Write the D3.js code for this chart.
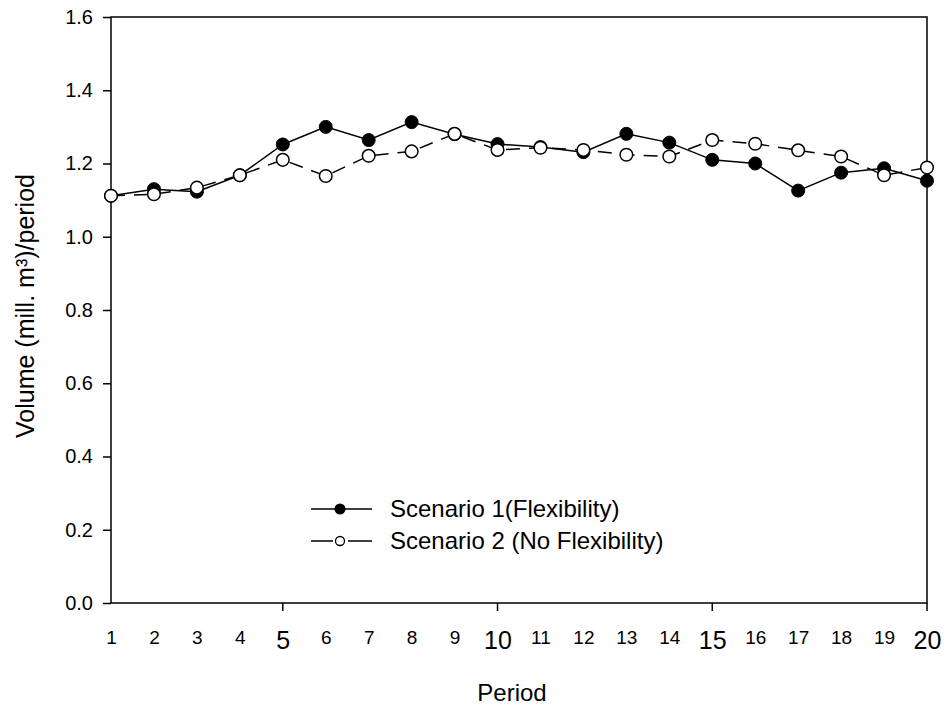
<!DOCTYPE html>
<html>
<head>
<meta charset="utf-8">
<script src="https://cdn.jsdelivr.net/npm/d3@7"></script>
<style>
  html, body { margin: 0; padding: 0; background: #fff; }
  svg { display: block; font-family: "Liberation Sans", Arial, sans-serif; }
</style>
</head>
<body>
<svg id="chart" width="947" height="709"></svg>
<script>
const periods = [1,2,3,4,5,6,7,8,9,10,11,12,13,14,15,16,17,18,19,20];
const scenario1 = [1.112,1.130,1.123,1.168,1.252,1.300,1.264,1.313,1.280,1.253,1.245,1.231,1.281,1.257,1.210,1.200,1.126,1.175,1.187,1.153];
const scenario2 = [1.112,1.116,1.134,1.168,1.210,1.166,1.221,1.233,1.281,1.237,1.243,1.237,1.224,1.219,1.264,1.254,1.236,1.219,1.168,1.189];
const yTicks = [0.0,0.2,0.4,0.6,0.8,1.0,1.2,1.4,1.6];
const majorX = [5,10,15,20];
const seriesNames = ["Scenario 1(Flexibility)", "Scenario 2 (No Flexibility)"];

const svg = d3.select("#chart");
const L = 111, R = 927, T = 17, B = 603;
const x = d3.scaleLinear().domain([1,20]).range([L,R]);
const y = d3.scaleLinear().domain([0,1.6]).range([B,T]);
const FF = "'Liberation Sans', Arial, sans-serif";

// frame
svg.append("rect").attr("x",L).attr("y",T).attr("width",R-L).attr("height",B-T)
  .attr("fill","none").attr("stroke","#000").attr("stroke-width",1.5);

// y axis
const yAxis = svg.append("g").attr("transform",`translate(${L},0)`)
  .call(d3.axisLeft(y).tickValues(yTicks).tickFormat(d3.format(".1f")).tickSize(8).tickPadding(10));
yAxis.select(".domain").remove();
yAxis.selectAll(".tick line").attr("stroke","#000").attr("stroke-width",1.5);
yAxis.selectAll(".tick text").attr("font-size",20).attr("fill","#000").attr("font-family",FF);

// x axis
const xAxis = svg.append("g").attr("transform",`translate(0,${B})`)
  .call(d3.axisBottom(x).tickValues(periods).tickFormat(d3.format("d"))
    .tickSizeInner(0).tickSizeOuter(0).tickPadding(28));
xAxis.select(".domain").remove();
xAxis.selectAll(".tick line").remove();
xAxis.selectAll(".tick text").attr("fill","#000").attr("font-family",FF)
  .attr("font-size", d => majorX.includes(d) ? 25 : 19)
  .attr("dy", d => majorX.includes(d) ? "0.72em" : "0.71em");
svg.append("g").selectAll("line").data(majorX).join("line")
  .attr("x1",d=>x(d)).attr("x2",d=>x(d)).attr("y1",B).attr("y2",B+8)
  .attr("stroke","#000").attr("stroke-width",1.5);

// titles
svg.append("text").attr("x",512).attr("y",701).attr("text-anchor","middle")
  .attr("font-size",24).attr("font-family",FF).text("Period");
svg.append("text").attr("transform",`translate(34,306) rotate(-90)`)
  .attr("text-anchor","middle").attr("font-size",25).attr("font-family",FF)
  .text("Volume (mill. m³)/period");

// lines
const line = d3.line().x((d,i)=>x(periods[i])).y(d=>y(d));
svg.append("path").datum(scenario2).attr("d",line).attr("fill","none")
  .attr("stroke","#000").attr("stroke-width",1.5).attr("stroke-dasharray","14 9");
svg.append("path").datum(scenario1).attr("d",line).attr("fill","none")
  .attr("stroke","#000").attr("stroke-width",1.5);

svg.append("g").selectAll("circle").data(scenario1).join("circle")
  .attr("cx",(d,i)=>x(periods[i])).attr("cy",d=>y(d)).attr("r",6.5)
  .attr("fill","#000").attr("stroke","#000").attr("stroke-width",1);
svg.append("g").selectAll("circle").data(scenario2).join("circle")
  .attr("cx",(d,i)=>x(periods[i])).attr("cy",d=>y(d)).attr("r",6.3)
  .attr("fill","#fff").attr("stroke","#000").attr("stroke-width",1.5);

// legend
const leg = svg.append("g");
const rows = [509, 541];
leg.append("line").attr("x1",311).attr("x2",372).attr("y1",rows[0]).attr("y2",rows[0])
  .attr("stroke","#000").attr("stroke-width",1.5);
leg.append("circle").attr("cx",340).attr("cy",rows[0]).attr("r",5.5).attr("fill","#000");
leg.append("line").attr("x1",311).attr("x2",372).attr("y1",rows[1]).attr("y2",rows[1])
  .attr("stroke","#000").attr("stroke-width",1.5).attr("stroke-dasharray","22 15 24");
leg.append("circle").attr("cx",340).attr("cy",rows[1]).attr("r",4.5)
  .attr("fill","#fff").attr("stroke","#000").attr("stroke-width",1.3);
leg.selectAll("text").data(seriesNames).join("text")
  .attr("x",390).attr("y",(d,i)=>rows[i]).attr("dy","0.35em")
  .attr("font-size",24).attr("font-family",FF).text(d=>d);
</script>
</body>
</html>
